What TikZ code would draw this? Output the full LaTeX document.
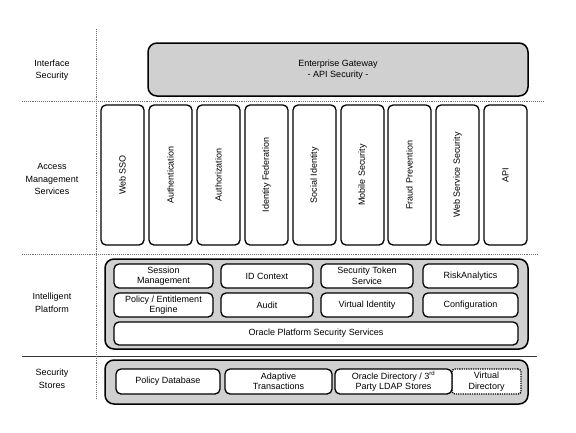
\documentclass[tikz,border=0pt]{standalone}
\usepackage{fontspec}
\setmainfont{Liberation Sans}
\begin{document}
\begin{tikzpicture}[x=1pt,y=-1pt,
  every node/.style={font=\fontsize{9}{10.5}\selectfont},
  lbl/.style={align=center,font=\fontsize{9}{12.5}\selectfont},
  blk/.style={draw=black,line width=1.3pt,rounded corners=5pt,fill=white,inner sep=0pt,align=center},
  grp/.style={draw=black,line width=1.5pt,rounded corners=9pt,fill=grpfill,inner sep=0pt,align=center},
  sepline/.style={draw=black!55,densely dotted,line width=0.9pt},
  solidsep/.style={draw=black!80,line width=0.8pt}]
\definecolor{grpfill}{RGB}{208,208,208}
\useasboundingbox (0,0) rectangle (576,432);
\fill[white] (0,0) rectangle (576,432);

% separators
\coordinate (v1) at (96,29);  \coordinate (v2) at (96,398);
\coordinate (h1a) at (22,101); \coordinate (h1b) at (543,101);
\coordinate (h2a) at (22,254); \coordinate (h2b) at (537,254);
\coordinate (h3a) at (22,356); \coordinate (h3b) at (537,356);
\draw[sepline] (h1a) -- (h1b);
\draw[sepline] (h2a) -- (h2b);
\draw[solidsep] (h3a) -- (h3b);
\draw[sepline] (v1) -- (v2);

% layer labels
\node[lbl] (lIS) at (52,70) {Interface\\Security};
\node[lbl] (lAM) at (52,179) {Access\\Management\\Services};
\node[lbl] (lIP) at (52,303) {Intelligent\\Platform};
\node[lbl] (lSS) at (52,379) {Security\\Stores};

% interface security
\node[grp,minimum width=380pt,minimum height=53pt] (gw) at (338,69.5) {Enterprise Gateway\\- API Security -};

% access management services
\foreach \nm/\lx/\txt in {sso/101/Web SSO, authn/149/Authentication, authz/197/Authorization,
  idf/245/Identity Federation, soc/293/Social Identity, mob/341/Mobile Security,
  fraud/388/Fraud Prevention, wss/436/Web Service Security, api/484/API}{
  \node[blk,rotate=90,minimum width=140pt,minimum height=43pt] (\nm) at (\lx+21.5,175) {\txt};
}

% intelligent platform
\node[grp,minimum width=423pt,minimum height=90pt] (ip) at (316.5,304) {};
\node[blk,minimum width=99pt,minimum height=24pt] (sess) at (163.5,276) {Session\\Management};
\node[blk,minimum width=92pt,minimum height=24pt] (idc) at (267,276) {ID Context};
\node[blk,minimum width=92pt,minimum height=24pt] (sts) at (367,276) {Security Token\\Service};
\node[blk,minimum width=95pt,minimum height=24pt] (risk) at (470.5,276) {RiskAnalytics};
\node[blk,minimum width=99pt,minimum height=24pt] (pol) at (163.5,305) {Policy / Entitlement\\Engine};
\node[blk,minimum width=92pt,minimum height=24pt] (aud) at (267,305) {Audit};
\node[blk,minimum width=92pt,minimum height=24pt] (vid) at (367,305) {Virtual Identity};
\node[blk,minimum width=95pt,minimum height=24pt] (conf) at (470.5,305) {Configuration};
\node[blk,minimum width=404pt,minimum height=23pt] (opss) at (316,333.5) {Oracle Platform Security Services};

% security stores
\node[grp,minimum width=423pt,minimum height=44pt] (ss) at (316.5,382) {};
\node[blk,minimum width=104pt,minimum height=25pt] (pdb) at (168,381.5) {Policy Database};
\node[blk,minimum width=107pt,minimum height=25pt] (adt) at (278.5,381.5) {Adaptive\\Transactions};
\node[blk,minimum width=69pt,minimum height=25pt,densely dotted,rounded corners=3pt] (vdir) at (486.5,381.5) {Virtual\\Directory};
\node[blk,minimum width=117pt,minimum height=25pt] (odir) at (393.5,381.5) {Oracle Directory / 3\textsuperscript{rd}\\Party LDAP Stores};
\end{tikzpicture}
\end{document}
